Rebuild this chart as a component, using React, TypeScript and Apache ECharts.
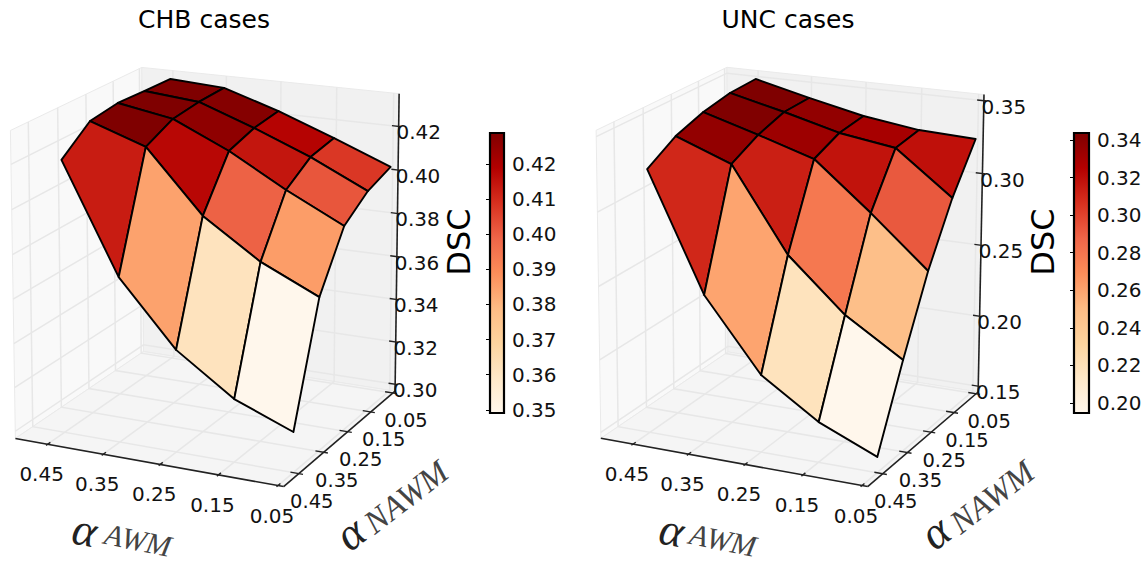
import React, { useEffect, useRef } from "react";
import * as echarts from "echarts";

const W = 1146, H = 564;
const awmTicks = [0.45, 0.35, 0.25, 0.15, 0.05];
const nawmTicks = [0.45, 0.35, 0.25, 0.15, 0.05];
const chbZTicks = [0.30,0.32,0.34,0.36,0.38,0.40,0.42];
const uncZTicks = [0.15,0.20,0.25,0.30,0.35];
const chbCbTicks = [0.35,0.36,0.37,0.38,0.39,0.40,0.41,0.42];
const uncCbTicks = [0.20,0.22,0.24,0.26,0.28,0.30,0.32,0.34];
const orRd = ["#fff7ec","#fee8c8","#fdd49e","#fdbb84","#fc8d59","#ef6548","#d7301f","#b30000","#7f0000"];
// DSC per alpha_AWM (rows, in awmTicks order) and alpha_NAWM (columns, in nawmTicks order)
const chbDsc = [
 [0.4198,0.4306,0.4325,0.4319,0.4315],
 [0.3711,0.4219,0.4280,0.4295,0.4299],
 [0.3425,0.3943,0.4164,0.4203,0.4218],
 [0.3248,0.3773,0.4020,0.4100,0.4121],
 [0.3146,0.3654,0.3892,0.3977,0.4018]];
const uncDsc = [
 [0.3254,0.3376,0.3444,0.3483,0.3491],
 [0.2463,0.3233,0.3331,0.3393,0.3398],
 [0.1983,0.2671,0.3213,0.3292,0.3314],
 [0.1730,0.2322,0.2896,0.3234,0.3260],
 [0.1564,0.2079,0.2557,0.2941,0.3243]];

const lo=0.0406,hi=0.509;
const U=(a:number)=>(hi-a)/(hi-lo);

function solve(A:number[][],b:number[]){
  const n=b.length;const M=A.map((r,i)=>[...r,b[i]]);
  for(let c=0;c<n;c++){
    let p=c;for(let r=c+1;r<n;r++)if(Math.abs(M[r][c])>Math.abs(M[p][c]))p=r;
    [M[c],M[p]]=[M[p],M[c]];
    for(let r=0;r<n;r++){if(r===c)continue;const f=M[r][c]/M[c][c];for(let k=c;k<=n;k++)M[r][k]-=f*M[c][k];}
  }
  return M.map((r,i)=>r[n]/r[i]);
}
// camera calibration: least-squares projective map from the unit axes box to the page
function fit(pts:number[][]){
  const rows:number[][]=[],rhs:number[]=[];
  pts.forEach(([u,v,w,x,y])=>{
    rows.push([1,u,v,w,0,0,0,0,-x*u,-x*v,-x*w]);rhs.push(x);
    rows.push([0,0,0,0,1,u,v,w,-y*u,-y*v,-y*w]);rhs.push(y);
  });
  const A=Array.from({length:11},(_,i)=>Array.from({length:11},(_,j)=>rows.reduce((s,r)=>s+r[i]*r[j],0)));
  const b=Array.from({length:11},(_,i)=>rows.reduce((s,r,k)=>s+r[i]*rhs[k],0));
  const q=solve(A,b);
  return {p:(u:number,v:number,w:number)=>{const d=1+q[8]*u+q[9]*v+q[10]*w;return [(q[0]+q[1]*u+q[2]*v+q[3]*w)/d,(q[4]+q[5]*u+q[6]*v+q[7]*w)/d];}};
}
const chbW=(z:number)=>(z-0.2967)/(0.4349-0.2967);
const uncW=(z:number)=>(z-0.1458)/(0.3542-0.1458);
const chbCal=[[0,0,0,16,439],[1,0,0,283,485],[1,1,0,395,392],[0,1,0,143,350],[0,0,1,10,130],[0,1,1,142,68],[1,1,1,399,95],
 [U(.45),0,0,48,445],[U(.25),0,0,160,465],[U(.05),0,0,277,486],[1,U(.45),0,300,473],[1,U(.25),0,348,432],[1,U(.05),0,393,393],
 [1,1,chbW(.30),395,385],[1,1,chbW(.36),397,256],[1,1,chbW(.42),399,125]];
const uncCal=[[0,0,0,601,439],[1,0,0,867,485],[1,1,0,978,393],[0,1,0,728,350],[0,0,1,596,130],[0,1,1,727,68],[1,1,1,984,95],
 [U(.45),0,0,633,445],[U(.25),0,0,745,465],[U(.05),0,0,863,486],[1,U(.45),0,883,473],[1,U(.25),0,930,432],[1,U(.05),0,977,393],
 [1,1,uncW(.15),978,388],[1,1,uncW(.25),981,245],[1,1,uncW(.35),984,100]];
const chbPr=fit(chbCal), uncPr=fit(uncCal);

const hex=(s:string)=>[1,3,5].map(i=>parseInt(s.slice(i,i+2),16));
function cmap(t:number){
  const x=Math.max(0,Math.min(1,t))*(orRd.length-1);const i=Math.min(orRd.length-2,Math.floor(x));const f=x-i;
  const A=hex(orRd[i]),B=hex(orRd[i+1]);
  return `rgb(${A.map((c,k)=>Math.round(c+(B[k]-c)*f)).join(",")})`;
}
const FONT="'DejaVu Sans'";
const SERIF="'Liberation Serif'";

function panelSeries(pr:any,z:number[][],zW:(z:number)=>number,zTicks:number[],norm:number[],lab:any){
  const grid=(api:any,pts:number[][],stroke:string,lw:number)=>({type:"polyline",silent:true,shape:{points:pts.map(p=>api.coord(pr.p(p[0],p[1],p[2])))},style:{fill:"none",stroke,lineWidth:lw}});
  const pane=(api:any,pts:number[][],fill:string)=>({type:"polygon",silent:true,shape:{points:pts.map(p=>api.coord(pr.p(p[0],p[1],p[2])))},style:{fill,stroke:"#eaeaea",lineWidth:1}});
  const txt=(api:any,pt:number[],text:string,fs:number,extra:any={})=>{const c=api.coord(pt);return {type:"text",silent:true,x:c[0],y:c[1],rotation:extra.rot||0,style:{text,fill:extra.fill||"#111",fontSize:fs,fontFamily:extra.ff||FONT,fontStyle:extra.fs||"normal",align:"center",verticalAlign:"middle",lineHeight:extra.lh}};};
  const back={type:"custom",coordinateSystem:"cartesian2d",xAxisIndex:0,yAxisIndex:0,z:1,silent:true,data:[[0]],renderItem:(_:any,api:any)=>{
    const ch:any[]=[];
    ch.push(pane(api,[[0,0,0],[0,1,0],[0,1,1],[0,0,1]],"#f9f9f9"));
    ch.push(pane(api,[[0,1,0],[1,1,0],[1,1,1],[0,1,1]],"#f1f1f1"));
    ch.push(pane(api,[[0,0,0],[1,0,0],[1,1,0],[0,1,0]],"#f5f5f5"));
    const gc="#e7e7e7",gw=1.5;
    awmTicks.forEach(t=>{const u=U(t);ch.push(grid(api,[[u,0,0],[u,1,0],[u,1,1]],gc,gw));});
    nawmTicks.forEach(t=>{const v=U(t);ch.push(grid(api,[[1,v,0],[0,v,0],[0,v,1]],gc,gw));});
    zTicks.forEach(t=>{const w=zW(t);ch.push(grid(api,[[0,0,w],[0,1,w],[1,1,w]],gc,gw));});
    const ac="#222",aw=1.6;
    ch.push(grid(api,[[0,0,0],[1,0,0]],ac,aw));
    ch.push(grid(api,[[1,0,0],[1,1,0]],ac,aw));
    ch.push(grid(api,[[1,1,0],[1,1,1]],ac,aw));
    awmTicks.forEach(t=>{const u=U(t);ch.push(grid(api,[[u,-0.012,0],[u,0.02,0]],ac,1.4));});
    nawmTicks.forEach(t=>{const v=U(t);ch.push(grid(api,[[0.97,v,0],[1.015,v,0]],ac,1.4));});
    zTicks.forEach(t=>{const w=zW(t);ch.push(grid(api,[[0.975,1,w],[1.01,1,w]],ac,1.4));});
    return {type:"group",children:ch};
  }};
  const quads:number[][]=[];
  for(let j=3;j>=0;j--)for(let i=0;i<4;i++)quads.push([i,j,(z[i][j]+z[i+1][j]+z[i+1][j+1]+z[i][j+1])/4]);
  const surf={type:"custom",coordinateSystem:"cartesian2d",xAxisIndex:0,yAxisIndex:0,z:3,silent:true,data:quads,renderItem:(_:any,api:any)=>{
    const i=api.value(0),j=api.value(1),m=api.value(2);
    const V=(ii:number,jj:number)=>api.coord(pr.p(U(awmTicks[ii]),U(nawmTicks[jj]),zW(z[ii][jj])));
    return {type:"polygon",silent:true,shape:{points:[V(i,j),V(i+1,j),V(i+1,j+1),V(i,j+1)]},style:{fill:cmap((m-norm[0])/(norm[1]-norm[0])),stroke:"#000",lineWidth:1.9,lineJoin:"round"}};
  }};
  const labels={type:"custom",coordinateSystem:"cartesian2d",xAxisIndex:0,yAxisIndex:0,z:4,silent:true,data:[[0]],renderItem:(_:any,api:any)=>{
    const ch:any[]=[];
    awmTicks.forEach(t=>{const p=pr.p(U(t),0,0);ch.push(txt(api,[p[0]-6,p[1]+30],t.toFixed(2),20));});
    nawmTicks.forEach(t=>{const p=pr.p(1,U(t),0);ch.push(txt(api,[p[0]+13,p[1]+28],t.toFixed(2),19.5));});
    zTicks.forEach(t=>{const p=pr.p(1,1,zW(t));ch.push(txt(api,[p[0]+20,p[1]+6],t.toFixed(2),20));});
    ch.push(txt(api,lab.a1,"α",46,{ff:SERIF,fs:"italic",rot:-0.2,fill:"#222"}));
    ch.push(txt(api,lab.a2,"AWM",30,{ff:SERIF,fs:"italic",rot:-0.2,fill:"#444"}));
    ch.push(txt(api,lab.n1,"α",46,{ff:SERIF,fs:"italic",rot:0.66,fill:"#222"}));
    ch.push(txt(api,lab.n2,"NAWM",33,{ff:SERIF,fs:"italic",rot:0.66,fill:"#444"}));
    ch.push(txt(api,lab.dsc,"DSC",32,{rot:Math.PI/2,fill:"#000"}));
    return {type:"group",children:ch};
  }};
  return [back,surf,labels];
}
function cbSeries(idx:number,cb:number[]){
  const stops=orRd.map((color,i)=>({offset:i/(orRd.length-1),color}));
  return {type:"custom",coordinateSystem:"cartesian2d",xAxisIndex:idx,yAxisIndex:idx,z:2,silent:true,data:[[0]],renderItem:(_:any,api:any)=>{
    const t=api.coord([0,cb[1]]),bt=api.coord([1,cb[0]]);
    return {type:"rect",silent:true,shape:{x:t[0],y:t[1],width:bt[0]-t[0],height:bt[1]-t[1]},style:{fill:new echarts.graphic.LinearGradient(0,1,0,0,stops),stroke:"#000",lineWidth:2.2}};
  }};
}
function cbAxis(idx:number,cb:number[],ticks:number[]){
  return {type:"value",gridIndex:idx,position:"right",min:cb[0],max:cb[1],z:5,splitLine:{show:false},axisLine:{show:false},
    axisTick:{show:true,inside:true,length:4,lineStyle:{color:"#000",width:1},customValues:ticks},
    axisLabel:{show:true,margin:8,fontSize:20,fontFamily:FONT,color:"#111",customValues:ticks,formatter:(v:number)=>v.toFixed(2)}};
}
const chbCb=[0.3491,0.4288];
const uncCb=[0.1947,0.3437];
const chbNorm=[0.3475,0.4265];
const uncNorm=[0.1945,0.3415];

export default function App(){
  const ref=useRef<HTMLDivElement>(null);
  useEffect(()=>{
    const ch=echarts.init(ref.current!,undefined,{renderer:"svg"});
    ch.setOption({animation:false,backgroundColor:"#fff",
      title:[
        {text:"CHB cases",left:199,top:2,textAlign:"center",textStyle:{fontFamily:FONT,fontSize:25,fontWeight:"normal",color:"#000"}},
        {text:"UNC cases",left:783,top:2,textAlign:"center",textStyle:{fontFamily:FONT,fontSize:25,fontWeight:"normal",color:"#000"}}],
      grid:[{left:0,top:0,width:W,height:H},{left:490,top:133,width:14,height:280},{left:1074,top:133,width:15,height:280}],
      xAxis:[{type:"value",gridIndex:0,min:0,max:W,show:false},{type:"value",gridIndex:1,min:0,max:1,show:false},{type:"value",gridIndex:2,min:0,max:1,show:false}],
      yAxis:[{type:"value",gridIndex:0,min:0,max:H,inverse:true,show:false},cbAxis(1,chbCb,chbCbTicks),cbAxis(2,uncCb,uncCbTicks)],
      series:[
        ...panelSeries(chbPr,chbDsc,chbW,chbZTicks,chbNorm,{a1:[85,530],a2:[138,540],n1:[350,533],n2:[406,497],dsc:[459,242]}),
        ...panelSeries(uncPr,uncDsc,uncW,uncZTicks,uncNorm,{a1:[672,530],a2:[723,540],n1:[935,532],n2:[992,497],dsc:[1043,242]}),
        cbSeries(1,chbCb),cbSeries(2,uncCb)]});
    return ()=>ch.dispose();
  },[]);
  return <div style={{position:"fixed",left:0,top:0,width:W,height:H}}>
    <div ref={ref} style={{width:W,height:H}}/>
  </div>;
}
